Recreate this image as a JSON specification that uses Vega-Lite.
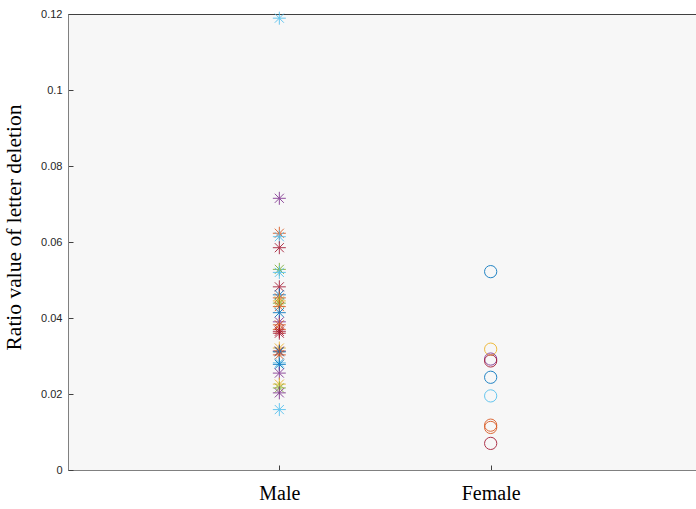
{
  "$schema": "https://vega.github.io/schema/vega-lite/v6.json",
  "width": 634,
  "height": 456,
  "autosize": "none",
  "padding": {"left": 68, "top": 14, "right": 0, "bottom": 39},
  "background": "white",
  "config": {
    "view": {"fill": "#f7f7f7", "stroke": "#404040", "strokeWidth": 1}
  },
  "data": {
    "values": [
      {"gender": "Male", "ratio": 0.1189, "c": 6},
      {"gender": "Male", "ratio": 0.0715, "c": 4},
      {"gender": "Male", "ratio": 0.0623, "c": 2},
      {"gender": "Male", "ratio": 0.0614, "c": 6},
      {"gender": "Male", "ratio": 0.0585, "c": 7},
      {"gender": "Male", "ratio": 0.0528, "c": 5},
      {"gender": "Male", "ratio": 0.0520, "c": 6},
      {"gender": "Male", "ratio": 0.0482, "c": 7},
      {"gender": "Male", "ratio": 0.0461, "c": 1},
      {"gender": "Male", "ratio": 0.0453, "c": 2},
      {"gender": "Male", "ratio": 0.0445, "c": 3},
      {"gender": "Male", "ratio": 0.0439, "c": 5},
      {"gender": "Male", "ratio": 0.0430, "c": 2},
      {"gender": "Male", "ratio": 0.0414, "c": 1},
      {"gender": "Male", "ratio": 0.0390, "c": 4},
      {"gender": "Male", "ratio": 0.0382, "c": 2},
      {"gender": "Male", "ratio": 0.0370, "c": 2},
      {"gender": "Male", "ratio": 0.0365, "c": 7},
      {"gender": "Male", "ratio": 0.0360, "c": 7},
      {"gender": "Male", "ratio": 0.0321, "c": 3},
      {"gender": "Male", "ratio": 0.0313, "c": 7},
      {"gender": "Male", "ratio": 0.0311, "c": 1},
      {"gender": "Male", "ratio": 0.0303, "c": 2},
      {"gender": "Male", "ratio": 0.0282, "c": 6},
      {"gender": "Male", "ratio": 0.0278, "c": 1},
      {"gender": "Male", "ratio": 0.0255, "c": 4},
      {"gender": "Male", "ratio": 0.0226, "c": 3},
      {"gender": "Male", "ratio": 0.0216, "c": 5},
      {"gender": "Male", "ratio": 0.0203, "c": 4},
      {"gender": "Male", "ratio": 0.0159, "c": 6},
      {"gender": "Female", "ratio": 0.0522, "c": 1},
      {"gender": "Female", "ratio": 0.0318, "c": 3},
      {"gender": "Female", "ratio": 0.0292, "c": 4},
      {"gender": "Female", "ratio": 0.0287, "c": 7},
      {"gender": "Female", "ratio": 0.0244, "c": 1},
      {"gender": "Female", "ratio": 0.0195, "c": 6},
      {"gender": "Female", "ratio": 0.0118, "c": 2},
      {"gender": "Female", "ratio": 0.0112, "c": 2},
      {"gender": "Female", "ratio": 0.0070, "c": 7}
    ]
  },
  "mark": {"type": "point", "filled": false, "strokeWidth": 1, "opacity": 0.85},
  "encoding": {
    "x": {
      "field": "gender",
      "type": "nominal",
      "sort": ["Male", "Female"],
      "scale": {"type": "point", "domain": ["Male", "Female"], "padding": 1},
      "axis": {
        "title": null,
        "labelAngle": 0,
        "labelFont": "Liberation Serif",
        "labelFontSize": 20,
        "labelColor": "#000000",
        "labelPadding": 18,
        "tickSize": -5,
        "tickColor": "#404040",
        "domainColor": "#808080",
        "grid": false
      }
    },
    "y": {
      "field": "ratio",
      "type": "quantitative",
      "scale": {"domain": [0, 0.12], "nice": false, "zero": true},
      "axis": {
        "title": "Ratio value of letter deletion",
        "titleFont": "Liberation Serif",
        "titleFontSize": 21.5,
        "titleFontWeight": "normal",
        "titleColor": "#000000",
        "titlePadding": 15,
        "titleY": 213,
        "values": [0, 0.02, 0.04, 0.06, 0.08, 0.1, 0.12],
        "labelExpr": "'' + datum.value",
        "labelFont": "Liberation Sans",
        "labelFontSize": 11,
        "labelColor": "#262626",
        "labelPadding": 11,
        "labelFlush": false,
        "labelOverlap": false,
        "tickSize": -5,
        "tickColor": "#404040",
        "domainColor": "#808080",
        "grid": false
      }
    },
    "shape": {
      "field": "gender",
      "type": "nominal",
      "scale": {
        "domain": ["Male", "Female"],
        "range": ["M-1,0L1,0M0,-1L0,1M-0.7,-0.7L0.7,0.7M-0.7,0.7L0.7,-0.7", "circle"]
      },
      "legend": null
    },
    "size": {
      "field": "gender",
      "type": "nominal",
      "scale": {"domain": ["Male", "Female"], "range": [169, 150]},
      "legend": null
    },
    "color": {
      "field": "c",
      "type": "nominal",
      "scale": {
        "domain": [1, 2, 3, 4, 5, 6, 7],
        "range": ["#0072BD", "#D95319", "#EDB120", "#7E2F8E", "#77AC30", "#4DBEEE", "#A2142F"]
      },
      "legend": null
    }
  }
}
